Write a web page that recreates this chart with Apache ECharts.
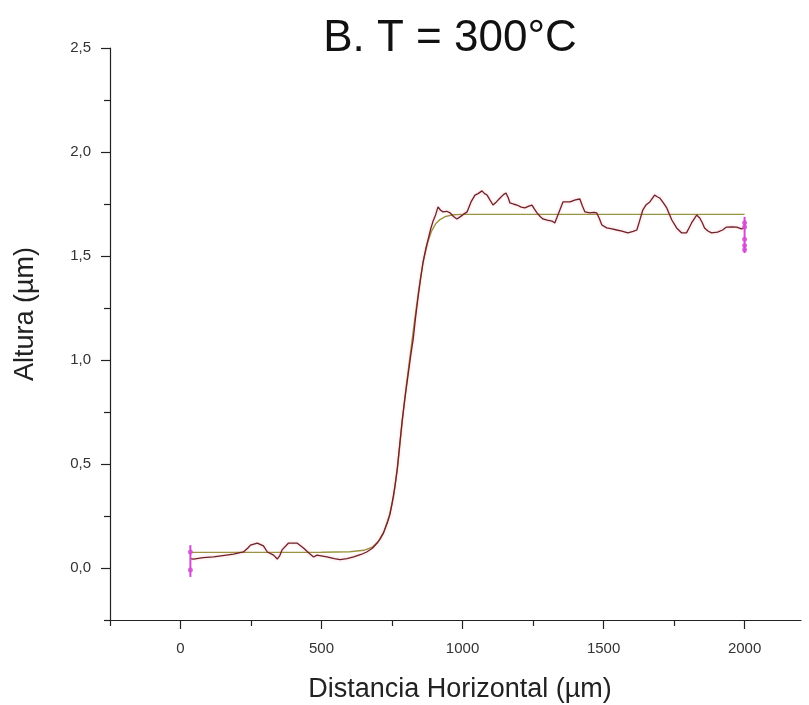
<!DOCTYPE html>
<html>
<head>
<meta charset="utf-8">
<script src="https://cdn.jsdelivr.net/npm/echarts@6/dist/echarts.min.js"></script>
<style>html,body{margin:0;padding:0;background:#fff;}#c{width:809px;height:705px;}</style>
</head>
<body>
<div id="c"></div>
<script>
// Measured profile (x in µm, height in µm)
const profileX = [35,46,80,117,150,188,223,238,248,272,294,308,330,343,352,360,383,413,436,455,472,484,519,545,566,590,614,640,660,680,697,708,720,733,743,750,760,768,777,786,796,807,816,825,833,842,851,860,869,878,887,896,905,913,922,931,944,956,968,980,991,1003,1016,1030,1044,1055,1069,1078,1087,1097,1108,1120,1133,1145,1154,1162,1168,1180,1193,1208,1221,1235,1246,1255,1264,1275,1285,1300,1317,1327,1336,1345,1356,1363,1381,1400,1416,1425,1434,1451,1466,1476,1485,1494,1511,1530,1547,1565,1586,1605,1618,1628,1639,1650,1664,1681,1690,1699,1712,1724,1742,1759,1777,1794,1803,1812,1822,1830,1841,1850,1858,1870,1883,1904,1922,1936,1955,1972,1989,2000];
const profileY = [0.045,0.043,0.05,0.053,0.06,0.067,0.077,0.095,0.11,0.12,0.106,0.077,0.062,0.043,0.06,0.087,0.12,0.12,0.096,0.072,0.053,0.062,0.053,0.045,0.04,0.045,0.053,0.065,0.077,0.095,0.12,0.14,0.17,0.216,0.26,0.31,0.39,0.47,0.59,0.71,0.82,0.93,1.02,1.10,1.20,1.30,1.39,1.47,1.53,1.58,1.63,1.67,1.70,1.736,1.72,1.712,1.715,1.707,1.69,1.678,1.688,1.70,1.712,1.76,1.793,1.80,1.813,1.80,1.793,1.77,1.745,1.76,1.779,1.795,1.803,1.78,1.755,1.75,1.745,1.735,1.731,1.74,1.745,1.725,1.707,1.69,1.678,1.672,1.668,1.659,1.69,1.721,1.76,1.769,1.76,1.77,1.774,1.74,1.712,1.707,1.71,1.707,1.68,1.649,1.635,1.63,1.625,1.62,1.611,1.618,1.625,1.67,1.721,1.745,1.76,1.793,1.785,1.779,1.755,1.731,1.673,1.635,1.611,1.611,1.635,1.659,1.68,1.697,1.683,1.66,1.635,1.62,1.611,1.615,1.625,1.639,1.64,1.639,1.63,1.635];
// Fitted step curve
const fitX = [35,300,500,600,650,680,700,720,740,755,770,785,800,815,830,845,860,875,890,905,920,940,965,1000,2000];
const fitY = [0.075,0.075,0.076,0.078,0.085,0.10,0.125,0.17,0.25,0.34,0.49,0.69,0.87,1.03,1.19,1.34,1.47,1.56,1.62,1.655,1.675,1.69,1.698,1.70,1.70];
// Magenta cursor markers
const leftBarX = 35, leftBarY = [0.11, -0.043], leftDotsY = [0.077, -0.01];
const rightBarX = 2000, rightBarY = [1.688, 1.514], rightDotsY = [1.66, 1.64, 1.58, 1.55, 1.53];
// Ticks
const xMajorTicks = [0,500,1000,1500,2000];
const xMinorTicks = [-250,250,750,1250,1750];
const yMajorTicks = [0,0.5,1.0,1.5,2.0,2.5];
const yMinorTicks = [-0.25,0.25,0.75,1.25,1.75,2.25];

const zip = (xs, ys) => xs.map((x, i) => [x, ys[i]]);
const chart = echarts.init(document.getElementById('c'));
const FONT = 'Liberation Sans, Arial, sans-serif';
const magenta = '#d24ad2';
const grid = {left: 110, right: 8, top: 48, bottom: 85};
const xBase = {type: 'value', min: -250, max: 2200, splitLine: {show: false}};
const yBase = {type: 'value', min: -0.25, max: 2.5, splitLine: {show: false}};
chart.setOption({
  animation: false,
  backgroundColor: '#fff',
  grid: grid,
  xAxis: [
    Object.assign({}, xBase, {
      axisLine: {onZero: false, lineStyle: {color: '#222', width: 1.2}},
      axisTick: {customValues: xMajorTicks, length: 9, lineStyle: {color: '#222', width: 1.2}},
      axisLabel: {customValues: xMajorTicks, color: '#333', fontSize: 15, fontFamily: FONT, margin: 21,
        formatter: v => String(v)}
    }),
    Object.assign({}, xBase, {
      position: 'bottom',
      axisLine: {show: false, onZero: false},
      axisTick: {customValues: xMinorTicks, length: 6, lineStyle: {color: '#222', width: 1.2}},
      axisLabel: {show: false}
    })
  ],
  yAxis: [
    Object.assign({}, yBase, {
      axisLine: {show: true, onZero: false, lineStyle: {color: '#222', width: 1.2}},
      axisTick: {show: true, customValues: yMajorTicks, length: 9, lineStyle: {color: '#222', width: 1.2}},
      axisLabel: {customValues: yMajorTicks, color: '#333', fontSize: 15, fontFamily: FONT, margin: 19,
        formatter: v => v.toFixed(1).replace('.', ',')}
    }),
    Object.assign({}, yBase, {
      position: 'left',
      axisLine: {show: false, onZero: false},
      axisTick: {show: true, customValues: yMinorTicks, length: 6, lineStyle: {color: '#222', width: 1.2}},
      axisLabel: {show: false}
    })
  ],
  graphic: [
    {type: 'text', x: 450, y: 39, style: {text: 'B. T = 300°C', font: '44px ' + FONT, fill: '#111', align: 'center', verticalAlign: 'middle'}},
    {type: 'text', x: 460, y: 690, style: {text: 'Distancia Horizontal (µm)', font: '27px ' + FONT, fill: '#222', align: 'center', verticalAlign: 'middle'}},
    {type: 'text', x: 26, y: 314, rotation: Math.PI / 2, style: {text: 'Altura (µm)', font: '27px ' + FONT, fill: '#222', align: 'center', verticalAlign: 'middle'}}
  ],
  series: [
    {type: 'line', data: zip(fitX, fitY), showSymbol: false, symbol: 'none', lineStyle: {color: '#9a9440', width: 1.4}, z: 2},
    {type: 'line', data: zip(profileX, profileY), showSymbol: false, symbol: 'none',
      lineStyle: {color: '#6e2228', width: 1.3, shadowColor: 'rgba(240,110,130,0.45)', shadowBlur: 3}, z: 3},
    {type: 'line', data: leftBarY.map(y => [leftBarX, y]), symbol: 'none', lineStyle: {color: magenta, width: 2}, z: 4},
    {type: 'line', data: rightBarY.map(y => [rightBarX, y]), symbol: 'none', lineStyle: {color: magenta, width: 2}, z: 4},
    {type: 'scatter', data: leftDotsY.map(y => [leftBarX, y]).concat(rightDotsY.map(y => [rightBarX, y])),
      symbol: 'circle', symbolSize: 5, itemStyle: {color: magenta}, z: 5}
  ]
});
</script>
</body>
</html>
